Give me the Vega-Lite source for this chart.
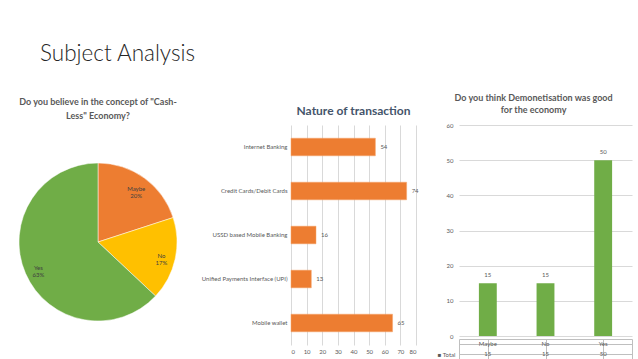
{
  "$schema": "https://vega.github.io/schema/vega-lite/v6.json",
  "background": "white",
  "padding": {"left": 12, "top": 42, "right": 0, "bottom": 0},
  "title": {"text": "Subject Analysis", "anchor": "start", "fontSize": 22.5, "font": "Lato", "fontWeight": 300, "color": "#262626", "dx": 28, "offset": 29},
  "config": {"font": "Lato", "view": {"stroke": null}, "concat": {"spacing": 17}},
  "hconcat": [
    {
      "width": 172,
      "height": 234,
      "title": {"text": ["Do you believe in the concept of \"Cash-", "Less\" Economy?"], "fontSize": 9, "fontWeight": "bold", "color": "#595959", "lineHeight": 14, "offset": 4},
      "data": {"values": [
        {"answer": "Maybe", "pct": 20},
        {"answer": "No", "pct": 17},
        {"answer": "Yes", "pct": 63}
      ]},
      "transform": [{"calculate": "[datum.answer, datum.pct + '%']", "as": "label"}],
      "encoding": {"theta": {"field": "pct", "type": "quantitative", "stack": true}},
      "layer": [
        {
          "mark": {"type": "arc", "outerRadius": 79, "stroke": "white", "strokeWidth": 0.5},
          "encoding": {"color": {"field": "answer", "type": "nominal", "scale": {"domain": ["Maybe", "No", "Yes"], "range": ["#ED7D31", "#FFC000", "#70AD47"]}, "legend": null}}
        },
        {
          "mark": {"type": "text", "radius": 65, "fontSize": 6, "color": "#404040", "lineHeight": 7},
          "encoding": {"detail": {"field": "answer", "type": "nominal"}, "text": {"field": "label", "type": "nominal"}}
        }
      ]
    },
    {
      "width": 125,
      "height": 220,
      "title": {"text": "Nature of transaction", "fontSize": 12, "fontWeight": "bold", "color": "#44546A", "offset": 7},
      "data": {"values": [
        {"type": "Internet Banking", "count": 54},
        {"type": "Credit Cards/Debit Cards", "count": 74},
        {"type": "USSD based Mobile Banking", "count": 16},
        {"type": "Unified Payments Interface (UPI)", "count": 13},
        {"type": "Mobile wallet", "count": 65}
      ]},
      "encoding": {
        "y": {"field": "type", "type": "nominal", "sort": null, "scale": {"paddingInner": 0.6, "paddingOuter": 0.3}, "axis": {"title": null, "ticks": false, "domain": false, "labelFontSize": 6, "labelColor": "#595959", "labelPadding": 4, "labelLimit": 200}},
        "x": {"field": "count", "type": "quantitative", "scale": {"domain": [0, 80]}, "axis": {"title": null, "values": [0, 10, 20, 30, 40, 50, 60, 70, 80], "grid": true, "gridColor": "#d9d9d9", "ticks": false, "domain": false, "labelFontSize": 6, "labelColor": "#595959", "labelPadding": 3}}
      },
      "layer": [
        {"mark": {"type": "bar", "color": "#ED7D31", "stroke": "#F4A46A", "strokeWidth": 0.5}},
        {"mark": {"type": "text", "align": "left", "dx": 5, "fontSize": 6, "color": "#595959"}, "encoding": {"text": {"field": "count", "type": "quantitative"}}}
      ]
    },
    {
      "spacing": -3,
      "title": {"text": ["Do you think Demonetisation was good", "for the economy"], "anchor": "middle", "fontSize": 9, "fontWeight": "bold", "color": "#595959", "lineHeight": 12, "offset": 7, "dx": -1},
      "resolve": {"scale": {"x": "independent"}},
      "data": {"values": [
        {"answer": "Maybe", "n": 15},
        {"answer": "No", "n": 15},
        {"answer": "Yes", "n": 50}
      ]},
      "vconcat": [
        {
          "width": 173,
          "height": 211,
          "encoding": {
            "x": {"field": "answer", "type": "nominal", "sort": null, "scale": {"paddingInner": 0.69, "paddingOuter": 0.345}, "axis": null},
            "y": {"field": "n", "type": "quantitative", "scale": {"domain": [0, 60]}, "axis": {"title": null, "values": [0, 10, 20, 30, 40, 50, 60], "grid": true, "gridColor": "#d9d9d9", "ticks": false, "domain": false, "labelFontSize": 6, "labelColor": "#595959", "labelPadding": 6}}
          },
          "layer": [
            {"mark": {"type": "bar", "color": "#70AD47"}},
            {"mark": {"type": "text", "baseline": "bottom", "dy": -5, "fontSize": 6, "color": "#595959"}, "encoding": {"text": {"field": "n", "type": "quantitative"}}}
          ]
        },
        {
          "width": 173,
          "height": 20,
          "view": {"stroke": "#bfbfbf"},
          "encoding": {
            "x": {"field": "answer", "type": "nominal", "sort": null, "scale": {"paddingInner": 0, "paddingOuter": 0}, "axis": {"title": null, "labels": false, "ticks": false, "domain": false, "grid": true, "bandPosition": 0, "gridColor": "#bfbfbf"}}
          },
          "layer": [
            {
              "mark": {"type": "text", "fontSize": 6, "color": "#595959"},
              "encoding": {
                "y": {"datum": "hdr", "type": "nominal", "scale": {"domain": ["hdr", "Total"]}, "axis": {"title": null, "ticks": false, "domain": false, "grid": true, "bandPosition": 0, "gridColor": "#bfbfbf", "labelExpr": "datum.value == 'Total' ? '■ Total' : ''", "labelFontSize": 6, "labelColor": "#595959", "labelPadding": 4}},
                "text": {"field": "answer", "type": "nominal"}
              }
            },
            {
              "mark": {"type": "text", "fontSize": 6, "color": "#595959"},
              "encoding": {
                "y": {"datum": "Total", "type": "nominal"},
                "text": {"field": "n", "type": "quantitative"}
              }
            }
          ]
        }
      ]
    }
  ]
}
